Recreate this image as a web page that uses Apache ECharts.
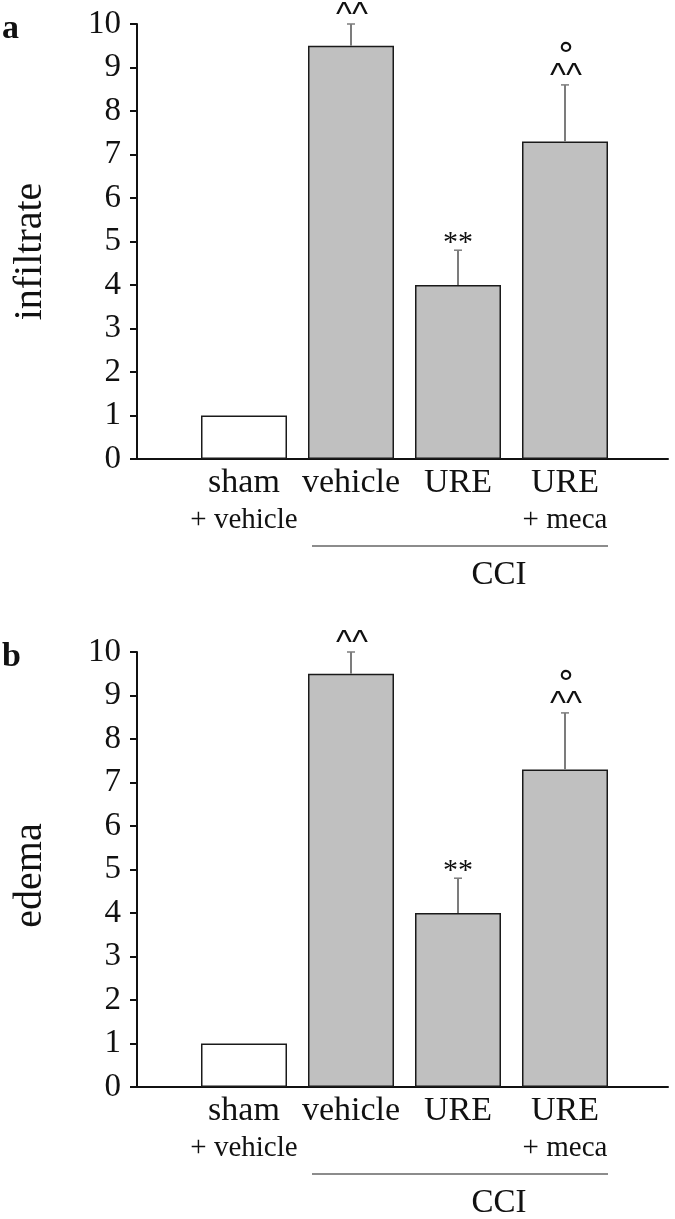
<!DOCTYPE html>
<html><head><meta charset="utf-8">
<script src="https://cdn.jsdelivr.net/npm/echarts@6/dist/echarts.min.js"></script>
<style>html,body{margin:0;padding:0;background:#fff}#c{width:675px;height:1219px}</style>
</head><body><div id="c"></div>
<script>
// ---- data ----
const groupLine1 = ['sham', 'vehicle', 'URE', 'URE'];
const groupLine2 = ['+ vehicle', '', '', '+ meca'];
const groupPos = [1, 2, 3, 4];
const yTickValues = [0, 1, 2, 3, 4, 5, 6, 7, 8, 9, 10];
const infiltrateMean = [1.0, 9.5, 4.0, 7.3];
const infiltrateSEM  = [0.0, 0.5, 0.8, 1.3];
const edemaMean = [1.0, 9.5, 4.0, 7.3];
const edemaSEM  = [0.0, 0.5, 0.8, 1.3];
const sigVsSham    = ['', '^^', '', '^^'];
const sigVsVehicle = ['', '', '**', ''];
const sigVsURE     = ['', '', '', '°'];
const cciGroupRange = [2, 4];
const cciLabel = 'CCI';
const panelLetters = ['a', 'b'];
const panelNames = ['infiltrate', 'edema'];

// ---- styles ----
const SERIF = '"Liberation Serif","Times New Roman",serif';
const INK = '#111';
const GRID_LEFT = 137, GRID_W = 531, GRID_H = 435;
const GRID_TOPS = [24, 652];
const UNIT_PX = 107;

const chart = echarts.init(document.getElementById('c'), null, {renderer: 'canvas'});

function xLabelFormatter(v) {
  const r = Math.round(v);
  if (Math.abs(v - r) > 1e-6) return '';
  const i = groupPos.indexOf(r);
  if (i < 0) return '';
  return '{a|' + groupLine1[i] + '}\n{b|' + (groupLine2[i] || ' ') + '}';
}

function errRender(marks1, marks2, marks3) {
  return function (params, api) {
    const i = params.dataIndex;
    const x = api.value(0), m = api.value(1), s = api.value(2);
    const base = api.coord([x, m]);
    const top = api.coord([x, m + s]);
    const ch = [];
    if (s > 0) {
      ch.push({type: 'line', shape: {x1: base[0], y1: base[1], x2: top[0], y2: top[1]},
        style: {stroke: '#7c7c7c', lineWidth: 2}});
      ch.push({type: 'line', shape: {x1: top[0] - 4, y1: top[1], x2: top[0] + 4, y2: top[1]},
        style: {stroke: '#7c7c7c', lineWidth: 1.5}});
    }
    if (marks1[i]) ch.push({type: 'text', style: {text: marks1[i], x: top[0] + 1, y: top[1] - 8,
      font: '34px "Liberation Sans",Arial,sans-serif', fill: INK, align: 'center', verticalAlign: 'middle'}});
    if (marks2[i]) ch.push({type: 'text', style: {text: marks2[i], x: top[0], y: top[1] - 7,
      font: '30px ' + SERIF, fill: INK, align: 'center', verticalAlign: 'middle'}});
    if (marks3[i]) ch.push({type: 'text', style: {text: marks3[i], x: top[0] + 1, y: top[1] - 27,
      font: '34px "DejaVu Sans",sans-serif', fill: INK, align: 'center', verticalAlign: 'middle'}});
    return {type: 'group', children: ch};
  };
}

function cciRender(params, api) {
  const a = api.coord([api.value(0), 0]);
  const b = api.coord([api.value(1), 0]);
  const y0 = a[1];
  return {type: 'group', children: [
    {type: 'line', shape: {x1: a[0] - 39, y1: y0 + 87, x2: b[0] + 43, y2: y0 + 87},
      style: {stroke: '#666', lineWidth: 1.5}},
    {type: 'text', style: {text: cciLabel, x: (a[0] + b[0]) / 2 + 41, y: y0 + 116,
      font: '33px ' + SERIF, fill: INK, align: 'center', verticalAlign: 'middle'}}
  ]};
}

const grids = [], xAxes = [], yAxes = [], series = [], graphics = [];
const means = [infiltrateMean, edemaMean], sems = [infiltrateSEM, edemaSEM];

GRID_TOPS.forEach((top, p) => {
  grids.push({left: GRID_LEFT, top: top, width: GRID_W, height: GRID_H});
  xAxes.push({
    type: 'value', gridIndex: p, min: 0, max: GRID_W / UNIT_PX, interval: 1,
    axisLine: {show: true, lineStyle: {color: INK, width: 2}},
    axisTick: {show: false}, splitLine: {show: false},
    axisLabel: {
      formatter: xLabelFormatter, margin: 6, color: INK, showMaxLabel: false,
      rich: {
        a: {fontFamily: SERIF, fontSize: 34, lineHeight: 37, color: INK},
        b: {fontFamily: SERIF, fontSize: 29, lineHeight: 37, color: INK}
      }
    }
  });
  yAxes.push({
    type: 'value', gridIndex: p, min: yTickValues[0], max: yTickValues[yTickValues.length - 1], interval: 1,
    axisLine: {show: true, lineStyle: {color: INK, width: 2}},
    axisTick: {show: true, length: 7, lineStyle: {color: INK, width: 2}},
    splitLine: {show: false},
    axisLabel: {fontFamily: SERIF, fontSize: 33, color: INK, margin: 16}
  });
  series.push({
    type: 'bar', xAxisIndex: p, yAxisIndex: p, barWidth: 86,
    data: groupPos.map((x, i) => ({
      value: [x, means[p][i]],
      itemStyle: {color: i === 0 ? '#ffffff' : '#c0c0c0', borderColor: '#1a1a1a', borderWidth: 1.5}
    })),
    emphasis: {disabled: true}, animation: false
  });
  series.push({
    type: 'custom', xAxisIndex: p, yAxisIndex: p,
    data: groupPos.map((x, i) => [x, means[p][i], sems[p][i]]),
    renderItem: errRender(sigVsSham, sigVsVehicle, sigVsURE), animation: false, z: 5
  });
  series.push({
    type: 'custom', xAxisIndex: p, yAxisIndex: p,
    data: [cciGroupRange], renderItem: cciRender, animation: false, silent: true
  });
  graphics.push({type: 'text', x: 2, y: top + 5, style: {text: panelLetters[p],
    font: 'bold 34px ' + SERIF, fill: INK, align: 'left', verticalAlign: 'middle'}});
  graphics.push({type: 'text', x: 30, y: top + GRID_H / 2 + (p === 0 ? 10 : 6), rotation: Math.PI / 2,
    style: {text: panelNames[p], font: '40px ' + SERIF, fill: INK, align: 'center', verticalAlign: 'middle'}});
});

chart.setOption({
  animation: false,
  backgroundColor: '#ffffff',
  grid: grids, xAxis: xAxes, yAxis: yAxes, series: series, graphic: graphics
});
</script>
</body></html>
